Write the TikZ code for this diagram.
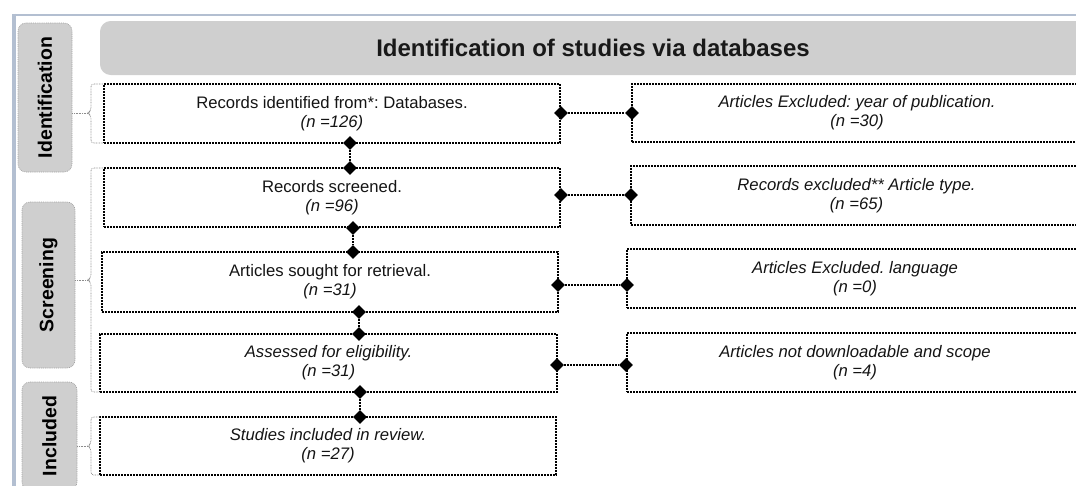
\documentclass[tikz,border=0pt]{standalone}
\usepackage{fontspec}
\setmainfont{Liberation Sans}
\usetikzlibrary{shapes.geometric}
\definecolor{framecol}{HTML}{B3BFD1}
\definecolor{panelgray}{HTML}{CFCFCF}
\definecolor{paneledge}{HTML}{A3A3A3}
\definecolor{inkgray}{HTML}{141414}
\frenchspacing
\begin{document}
\begin{tikzpicture}[x=0.75pt,y=-0.75pt,
  dotline/.style={draw=black, line width=1.35pt, dash pattern=on 1.2pt off 1.05pt},
  flowbox/.style 2 args={dotline, rectangle, inner sep=0pt, align=center,
    minimum width=#1*0.75pt, minimum height=#2*0.75pt,
    text=inkgray, font=\fontsize{12.5}{14.4}\selectfont},
  sidebox/.style={rectangle, rounded corners=6pt, fill=panelgray, draw=paneledge,
    line width=0.5pt, dash pattern=on 0.7pt off 0.7pt, rotate=90, inner sep=0pt,
    font=\fontsize{14.6}{16}\selectfont\bfseries, text=black},
  titlebox/.style={rectangle, rounded corners=8pt, fill=panelgray, inner sep=0pt,
    font=\fontsize{18}{20}\selectfont\bfseries, text=black!90},
  dmd/.style={diamond, fill=black, inner sep=0pt, minimum width=10.5pt, minimum height=10.5pt},
  bracestyle/.style={draw=black!45, line width=0.5pt, dash pattern=on 0.6pt off 0.6pt,
    rounded corners=2pt}
]
\useasboundingbox (0,0) rectangle (1076,486);
\clip (0,0) rectangle (1076,486);

% outer frame
\draw[framecol, line width=1.5pt] (12,14.5) -- (1076,14.5);
\draw[framecol, line width=3pt] (13.5,13.5) -- (13.5,486);

% heading
\node[titlebox, minimum width=739.5pt, minimum height=40.5pt] (title) at (593,48)
  {Identification of studies via databases};

% phase labels
\node[sidebox, minimum width=111.75pt, minimum height=40.5pt] (lab1) at (45,97.5) {Identification};
\node[sidebox, minimum width=124.5pt, minimum height=39.75pt] (lab2) at (48.5,285) {Screening};
\node[sidebox, minimum width=81pt, minimum height=41.25pt] (lab3) at (49.5,436) {Included};

% main flow boxes
\node[flowbox={456}{59}] (b1) at (332,113.5) {Records identified from*: Databases.\\\itshape (n =126)};
\node[flowbox={456}{59}] (b2) at (332,197.5) {Records screened.\\\itshape (n =96)};
\node[flowbox={456}{60}] (b3) at (330,282) {Articles sought for retrieval.\\\itshape (n =31)};
\node[flowbox={457}{58}] (b4) at (328.5,363) {\itshape Assessed for eligibility.\\\itshape (n =31)};
\node[flowbox={456}{58}] (b5) at (328,446) {\itshape Studies included in review.\\\itshape (n =27)};

% exclusion boxes
\node[flowbox={450}{58}] (r1) at (857,113) {\itshape Articles Excluded: year of publication.\\\itshape (n =30)};
\node[flowbox={451}{59}] (r2) at (856.5,195.5) {\itshape Records excluded** Article type.\\\itshape (n =65)};
\node[flowbox={456}{59}] (r3) at (855,278.5) {\itshape Articles Excluded. language\\\itshape (n =0)};
\node[flowbox={456}{59}] (r4) at (855,362.5) {\itshape Articles not downloadable and scope\\\itshape (n =4)};

% braces from phase labels to boxes
\draw[bracestyle] (103,84) -- (91,84) -- (91,110) -- (88,113) -- (91,116) -- (91,143) -- (103,143);
\draw[bracestyle] (lab1.south |- 0,113) -- (88,113);
\draw[bracestyle] (103,168) -- (91,168) -- (91,277) -- (88,280) -- (91,283) -- (91,392) -- (100,392);
\draw[bracestyle] (lab2.south |- 0,280) -- (88,280);
\draw[bracestyle] (100,417) -- (91,417) -- (91,443) -- (88,446) -- (91,449) -- (91,475) -- (100,475);
\draw[bracestyle] (lab3.south |- 0,446) -- (88,446);

% diamond joints, horizontal links
\node[dmd] (h1a) at (561,113) {};
\node[dmd] (h1b) at (632,113) {};
\node[dmd] (h2a) at (561,195) {};
\node[dmd] (h2b) at (631,195) {};
\node[dmd] (h3a) at (558,285) {};
\node[dmd] (h3b) at (627,285) {};
\node[dmd] (h4a) at (557,365) {};
\node[dmd] (h4b) at (626,365) {};

% diamond joints, vertical links
\node[dmd] (v1a) at (350,143) {};
\node[dmd] (v1b) at (350,168) {};
\node[dmd] (v2a) at (353,228) {};
\node[dmd] (v2b) at (353,252) {};
\node[dmd] (v3a) at (359,312) {};
\node[dmd] (v3b) at (359,334) {};
\node[dmd] (v4a) at (360,392) {};
\node[dmd] (v4b) at (360,417) {};

\draw[dotline] (h1a) -- (h1b);
\draw[dotline] (h2a) -- (h2b);
\draw[dotline] (h3a) -- (h3b);
\draw[dotline] (h4a) -- (h4b);
\draw[dotline] (v1a) -- (v1b);
\draw[dotline] (v2a) -- (v2b);
\draw[dotline] (v3a) -- (v3b);
\draw[dotline] (v4a) -- (v4b);
\end{tikzpicture}
\end{document}
